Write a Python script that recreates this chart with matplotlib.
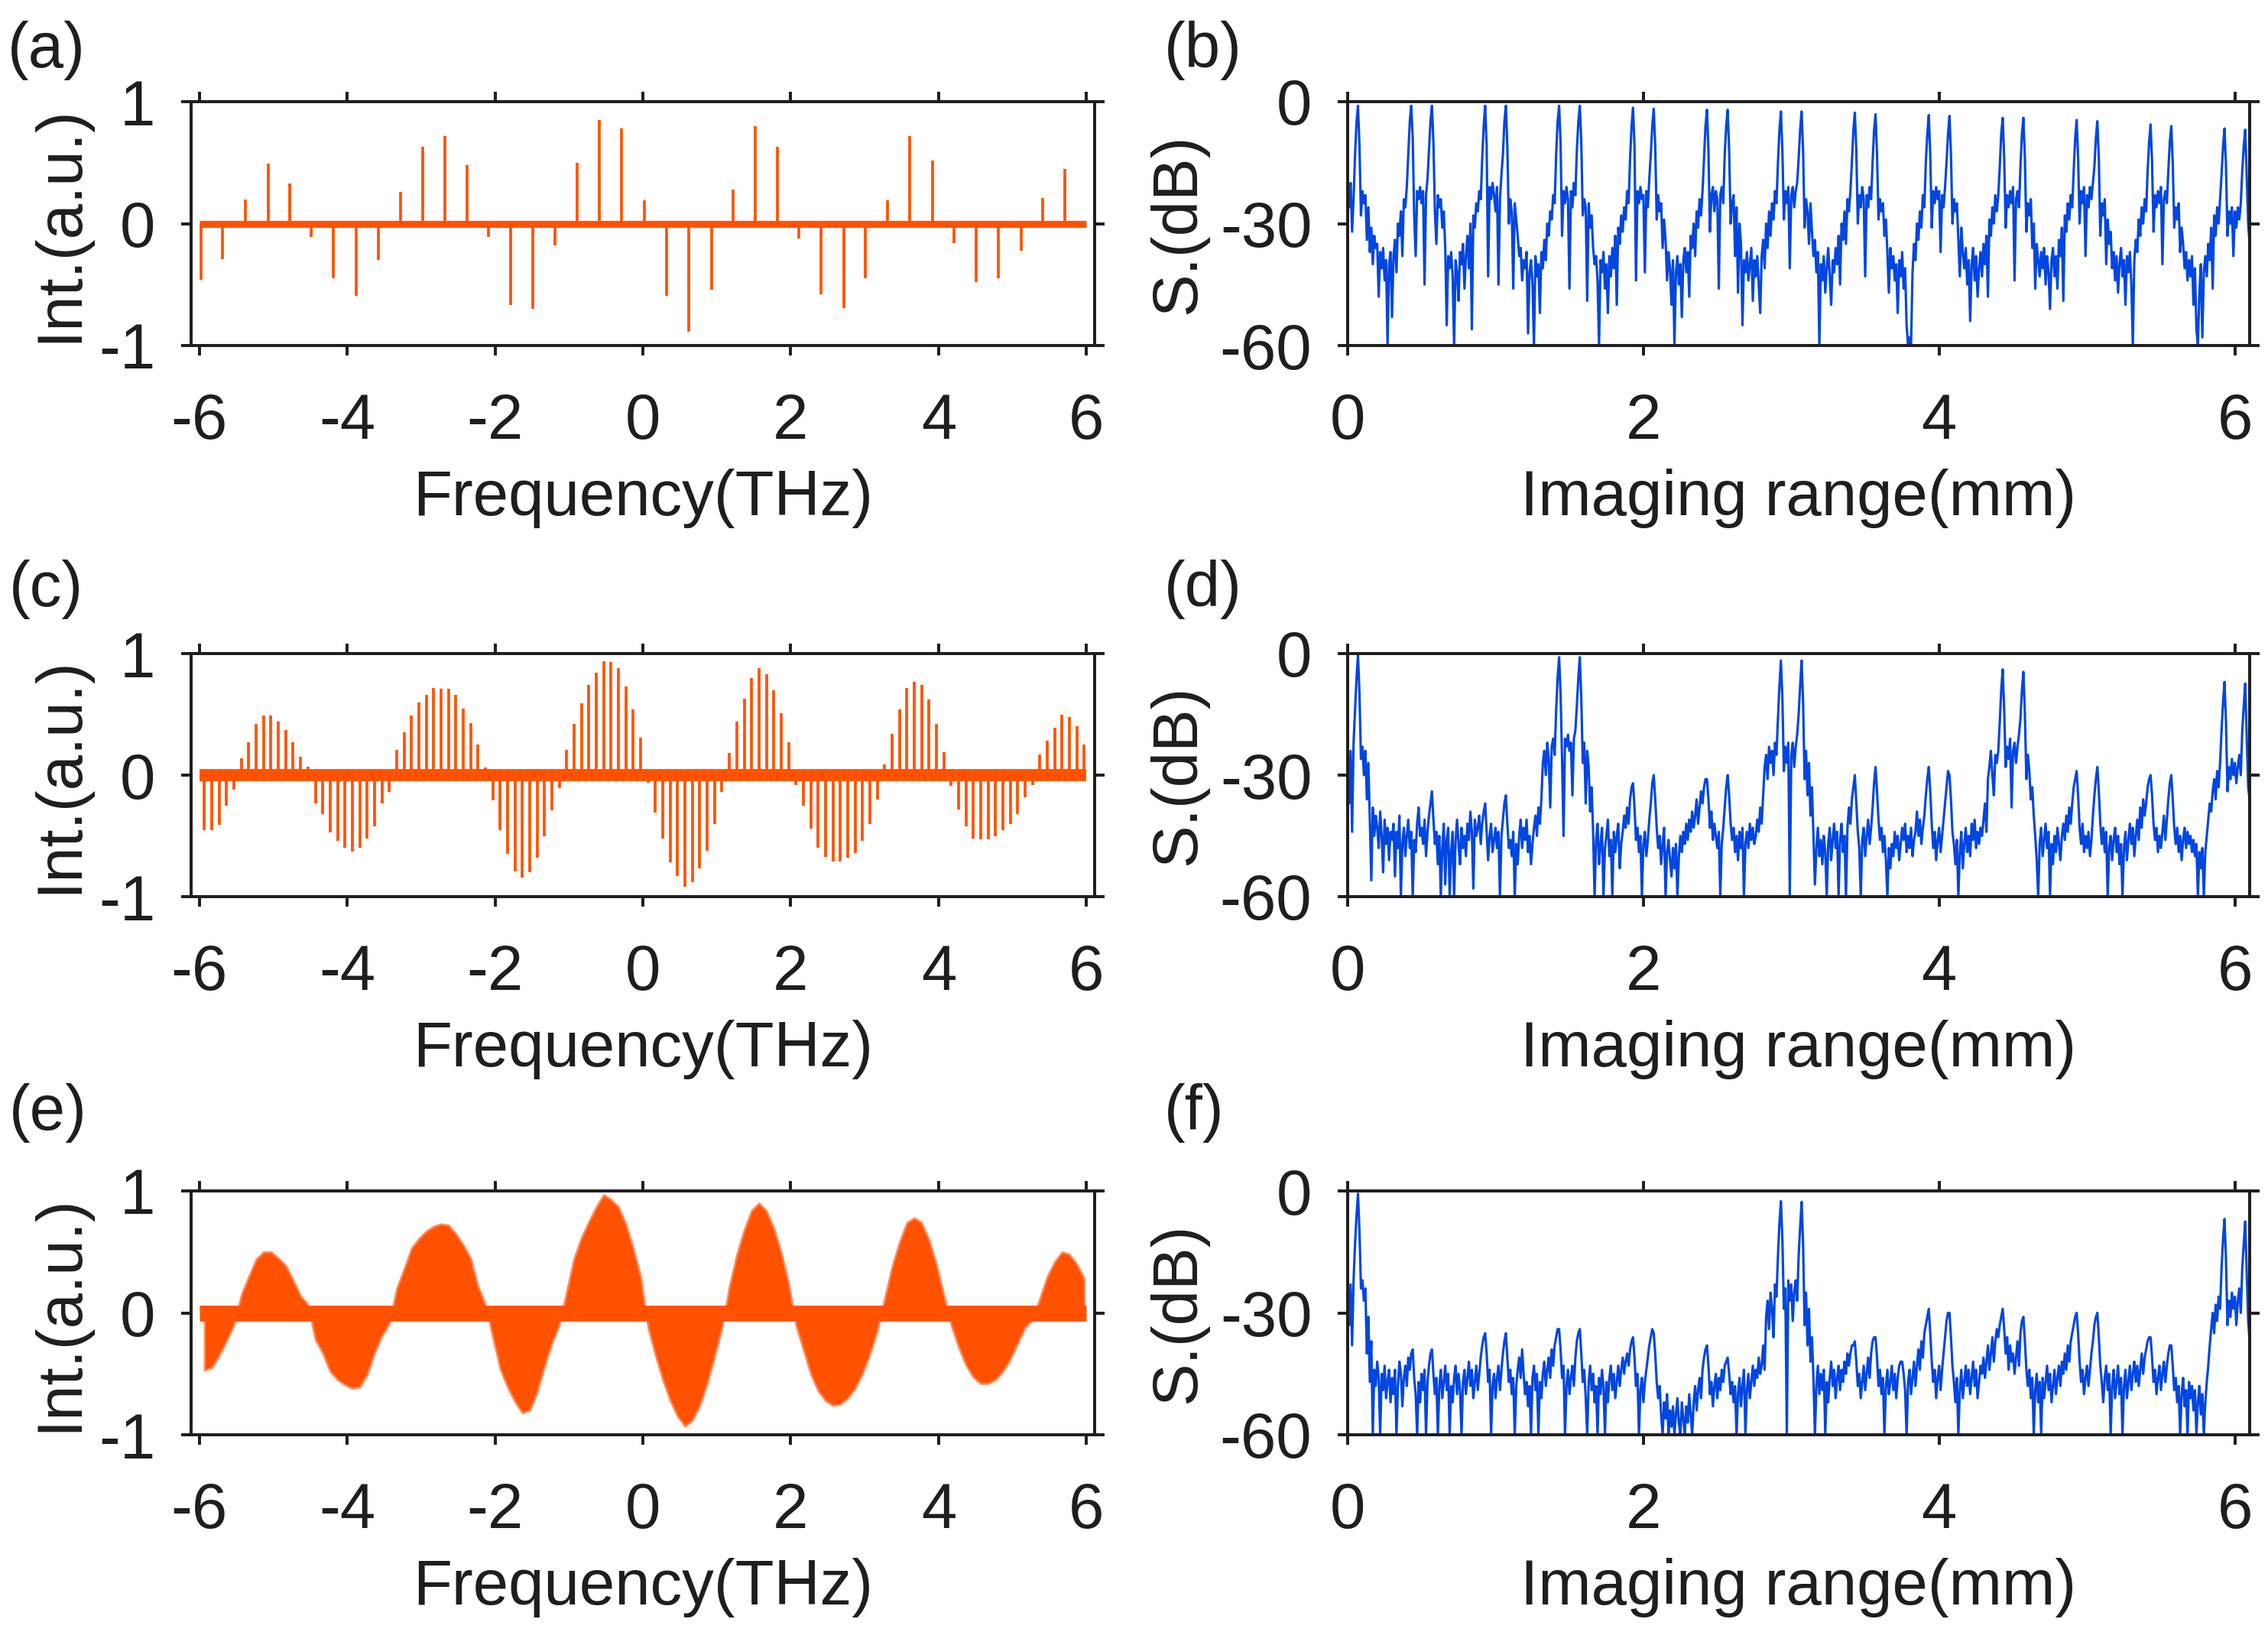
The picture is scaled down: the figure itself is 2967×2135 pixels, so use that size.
import numpy as np
import matplotlib
matplotlib.use("Agg")
import matplotlib.pyplot as plt

plt.rcParams['font.family'] = ['Liberation Sans', 'DejaVu Sans']
plt.rcParams['axes.unicode_minus'] = False

# ---------------- data ----------------
# (a) sparse comb: line positions (THz) and signed intensities
spike_freq_a = [-5.98, -5.69, -5.38, -5.07, -4.78, -4.49, -4.19, -3.88, -3.58, -3.28,
                -2.98, -2.68, -2.38, -2.09, -1.79, -1.49, -1.19, -0.89, -0.59, -0.29,
                0.02, 0.32, 0.62, 0.93, 1.22, 1.52, 1.82, 2.11, 2.41, 2.72,
                3.01, 3.31, 3.61, 3.92, 4.21, 4.51, 4.81, 5.12, 5.41, 5.71]
spike_int_a = [-0.46, -0.29, 0.20, 0.49, 0.33, -0.11, -0.45, -0.59, -0.30, 0.26,
               0.63, 0.72, 0.48, -0.11, -0.67, -0.70, -0.18, 0.50, 0.85, 0.78,
               0.19, -0.59, -0.89, -0.54, 0.28, 0.80, 0.63, -0.12, -0.58, -0.69,
               -0.45, 0.19, 0.72, 0.52, -0.16, -0.48, -0.45, -0.22, 0.21, 0.45]

# (c) denser comb (0.1 THz grid starting at -5.93 THz)
comb_start_c, comb_step_c = -5.93, 0.1
comb_int_c = [-0.45, -0.45, -0.41, -0.25, -0.12,
              0.14, 0.27, 0.42, 0.49, 0.49, 0.44, 0.37, 0.27, 0.15, 0.07,
              -0.23, -0.32, -0.47, -0.54, -0.60, -0.63, -0.60, -0.52, -0.42, -0.23, -0.14,
              0.21, 0.35, 0.49, 0.60, 0.66, 0.72, 0.71, 0.71, 0.66, 0.55, 0.43, 0.25, 0.06,
              -0.21, -0.45, -0.65, -0.79, -0.84, -0.80, -0.68, -0.50, -0.29, -0.11,
              0.21, 0.42, 0.59, 0.74, 0.84, 0.94, 0.93, 0.88, 0.73, 0.54, 0.31,
              -0.06, -0.31, -0.52, -0.72, -0.83, -0.92, -0.88, -0.77, -0.62, -0.40, -0.14,
              0.18, 0.44, 0.63, 0.80, 0.88, 0.83, 0.70, 0.51, 0.27,
              -0.08, -0.25, -0.44, -0.60, -0.67, -0.71, -0.71, -0.68, -0.64, -0.54, -0.40, -0.20,
              0.09, 0.34, 0.54, 0.72, 0.77, 0.74, 0.62, 0.42, 0.19,
              -0.09, -0.28, -0.42, -0.52, -0.53, -0.53, -0.50, -0.45, -0.40, -0.32, -0.18, -0.08,
              0.17, 0.28, 0.39, 0.50, 0.48, 0.40, 0.25]

# (e) envelope of the very dense comb, read on the same 0.1 THz grid
env_int_e = [-0.47, -0.45, -0.35, -0.23, -0.10,
             0.15, 0.30, 0.44, 0.50, 0.50, 0.45, 0.39, 0.27, 0.14, 0.07,
             -0.22, -0.33, -0.48, -0.55, -0.59, -0.62, -0.61, -0.51, -0.33, -0.19, -0.09,
             0.20, 0.36, 0.53, 0.61, 0.67, 0.71, 0.73, 0.72, 0.65, 0.56, 0.45, 0.22, 0.07,
             -0.20, -0.46, -0.61, -0.73, -0.82, -0.80, -0.65, -0.44, -0.25, -0.10,
             0.18, 0.45, 0.62, 0.75, 0.87, 0.97, 0.93, 0.87, 0.73, 0.53, 0.30,
             -0.12, -0.35, -0.55, -0.72, -0.85, -0.93, -0.88, -0.76, -0.58, -0.36, -0.12,
             0.22, 0.48, 0.68, 0.84, 0.90, 0.84, 0.70, 0.50, 0.25,
             -0.10, -0.30, -0.50, -0.64, -0.72, -0.76, -0.75, -0.70, -0.62, -0.50, -0.34, -0.15,
             0.12, 0.38, 0.58, 0.74, 0.78, 0.74, 0.60, 0.40, 0.15,
             -0.10, -0.28, -0.43, -0.53, -0.58, -0.58, -0.55, -0.48, -0.38, -0.25, -0.12, -0.06,
             0.12, 0.30, 0.42, 0.50, 0.48, 0.40, 0.28]

freq_span = [-6.0, 6.0]

# imaging range traces (dB), sampled every 0.01 mm from 0 to 6.10 mm
range_step_mm = 0.01
db_b = [
    -21, -26, -20, -32, -24, -13, -5, -1, -11, -28,
    -22, -25, -23, -34, -26, -37, -31, -40, -33, -36,
    -35, -48, -37, -41, -36, -44, -39, -60, -40, -37,
    -53, -38, -34, -42, -30, -33, -27, -38, -24, -26,
    -21, -13, -5, -1, -9, -28, -38, -22, -24, -21,
    -25, -22, -45, -23, -19, -12, -5, -1, -10, -27,
    -35, -23, -26, -24, -31, -27, -36, -55, -38, -41,
    -37, -43, -60, -39, -42, -49, -37, -40, -35, -46,
    -38, -33, -41, -30, -56, -28, -31, -25, -27, -22,
    -24, -14, -6, -1, -11, -43, -21, -24, -20, -23,
    -27, -21, -45, -24, -18, -13, -5, -1, -11, -30,
    -24, -27, -46, -25, -29, -33, -38, -36, -44, -39,
    -41, -37, -57, -42, -39, -45, -60, -38, -43, -40,
    -52, -37, -41, -34, -39, -30, -33, -27, -29, -23,
    -25, -13, -5, -1, -10, -33, -22, -25, -21, -24,
    -46, -22, -26, -20, -23, -12, -5, -1, -10, -28,
    -24, -26, -49, -25, -31, -28, -36, -40, -38, -44,
    -60, -39, -42, -37, -46, -40, -52, -38, -43, -36,
    -41, -33, -50, -31, -35, -28, -32, -26, -29, -22,
    -25, -14, -6, -1.5, -11, -44, -22, -25, -21, -24,
    -23, -42, -22, -26, -19, -13, -6, -1.7, -11, -29,
    -23, -27, -25, -36, -29, -34, -44, -37, -41, -50,
    -39, -60, -42, -38, -45, -40, -53, -39, -36, -42,
    -37, -48, -33, -36, -30, -38, -27, -31, -24, -28,
    -22, -14, -6, -2, -12, -32, -23, -21, -27, -22,
    -24, -46, -23, -21, -25, -13, -6, -2, -12, -30,
    -25, -23, -38, -26, -47, -30, -35, -55, -39, -42,
    -37, -44, -40, -36, -49, -39, -43, -38, -45, -52,
    -38, -34, -41, -30, -36, -27, -33, -25, -29, -22,
    -25, -15, -7, -2.4, -12, -29, -22, -25, -21, -41,
    -23, -21, -26, -22, -20, -14, -7, -2.4, -12, -31,
    -24, -27, -35, -25, -32, -38, -34, -42, -37, -60,
    -40, -44, -38, -47, -41, -36, -43, -50, -39, -42,
    -36, -40, -33, -45, -30, -34, -27, -35, -24, -27,
    -22, -15, -7, -2.7, -12, -30, -23, -26, -21, -24,
    -43, -23, -26, -21, -24, -15, -7, -3.1, -13, -29,
    -24, -27, -25, -33, -29, -37, -47, -36, -41, -38,
    -44, -40, -52, -39, -43, -37, -46, -41, -55, -60,
    -58, -60, -42, -35, -39, -30, -34, -27, -31, -23,
    -26, -15, -8, -3.3, -13, -31, -22, -25, -21, -24,
    -22, -37, -23, -26, -21, -15, -8, -3.5, -13, -30,
    -24, -27, -25, -34, -43, -31, -37, -41, -36, -45,
    -39, -54, -40, -36, -44, -38, -48, -41, -37, -43,
    -35, -40, -33, -48, -29, -33, -26, -30, -23, -27,
    -23, -16, -8, -4, -14, -31, -23, -26, -22, -25,
    -21, -44, -24, -22, -26, -16, -8, -4, -14, -32,
    -25, -28, -24, -36, -30, -46, -35, -39, -43, -37,
    -41, -36, -45, -38, -42, -51, -39, -36, -43, -38,
    -46, -34, -38, -31, -49, -28, -32, -25, -29, -23,
    -26, -17, -9, -4.5, -14, -30, -22, -25, -21, -38,
    -23, -26, -21, -24, -20, -16, -9, -4.8, -14, -33,
    -25, -28, -24, -40, -29, -35, -32, -41, -37, -44,
    -38, -47, -40, -36, -43, -39, -50, -38, -42, -37,
    -45, -60, -39, -34, -37, -29, -33, -26, -30, -24,
    -27, -17, -10, -5.6, -15, -32, -23, -26, -22, -25,
    -21, -40, -24, -22, -25, -17, -10, -6, -15, -31,
    -26, -29, -25, -37, -31, -35, -41, -37, -44, -39,
    -43, -38, -50, -41, -56, -60, -47, -40, -58, -42,
    -38, -43, -35, -39, -31, -46, -28, -33, -26, -30,
    -24, -18, -11, -6.6, -16, -33, -27, -30, -26, -38,
    -27, -31, -26, -29, -25, -17, -11, -6.9, -18, -30, -35]

db_d = [
    -21, -37, -24, -44, -22, -14, -6, -0.3, -10, -26,
    -23, -30, -24, -36, -27, -41, -56, -38, -45, -40,
    -43, -48, -39, -45, -54, -41, -47, -43, -51, -44,
    -46, -42, -55, -44, -48, -40, -60, -47, -43, -50,
    -45, -41, -48, -44, -60, -46, -49, -42, -38, -45,
    -43, -47, -41, -50, -44, -40, -37, -34, -41, -47,
    -44, -52, -45, -60, -48, -42, -57, -46, -43, -60,
    -49, -44, -60, -46, -41, -47, -52, -43, -48, -45,
    -50, -42, -46, -39, -44, -58, -41, -45, -43, -40,
    -47, -42, -39, -37, -44, -51, -45, -42, -49, -46,
    -43, -48, -44, -60, -45, -41, -37, -35, -42, -48,
    -46, -50, -44, -60, -47, -52, -45, -41, -48, -43,
    -46, -41, -49, -45, -52, -47, -43, -40, -45, -38,
    -42, -36, -27, -24, -30, -22, -26, -38, -23, -21,
    -25, -14, -6, -0.9, -10, -26, -45, -21, -23, -20,
    -24, -22, -35, -21, -19, -13, -6, -0.9, -11, -27,
    -22, -37, -24, -28, -39, -33, -44, -60, -46, -42,
    -52, -47, -43, -60, -48, -45, -41, -50, -46, -60,
    -44, -49, -45, -42, -53, -47, -44, -40, -43, -38,
    -42, -36, -33, -32, -38, -46, -43, -49, -45, -60,
    -47, -44, -50, -46, -41, -37, -32, -30, -36, -43,
    -48, -45, -52, -47, -43, -60, -49, -46, -51, -55,
    -48, -53, -47, -60, -50, -45, -49, -44, -47, -42,
    -46, -41, -44, -39, -43, -40, -36, -42, -38, -34,
    -37, -33, -31, -31, -36, -43, -39, -46, -42, -45,
    -48, -44, -60, -47, -43, -38, -33, -30, -35, -42,
    -46, -43, -49, -45, -51, -44, -48, -43, -60, -47,
    -44, -48, -42, -46, -43, -47, -45, -41, -44, -38,
    -42, -35, -28, -25, -31, -23, -27, -24, -30, -22,
    -25, -16, -8, -1.7, -11, -29, -23, -27, -22, -60,
    -25, -22, -28, -23, -20, -15, -8, -1.7, -12, -31,
    -24, -35, -27, -40, -33, -45, -57, -48, -43, -50,
    -46, -52, -45, -49, -60, -47, -43, -51, -46, -42,
    -48, -44, -60, -46, -42, -49, -45, -60, -43, -38,
    -42, -36, -33, -30, -37, -44, -48, -60, -46, -43,
    -50, -45, -41, -47, -43, -38, -32, -28, -34, -41,
    -46, -43, -49, -45, -51, -60, -48, -53, -47, -50,
    -44, -48, -45, -51, -47, -43, -46, -42, -49, -45,
    -48, -43, -50, -46, -44, -39, -45, -41, -47, -43,
    -40, -35, -31, -28, -34, -42, -48, -44, -51, -46,
    -43, -49, -45, -41, -37, -33, -29, -30, -36, -44,
    -47, -52, -46, -60, -49, -44, -53, -47, -43, -49,
    -45, -50, -42, -46, -41, -48, -44, -47, -43, -45,
    -41, -37, -44, -31, -28, -24, -30, -35, -25, -27,
    -24, -17, -9, -3.9, -14, -28, -23, -26, -21, -38,
    -24, -22, -27, -23, -20, -16, -9, -4.5, -15, -31,
    -25, -29, -36, -33, -40, -45, -51, -60, -47, -43,
    -50, -46, -42, -48, -44, -60, -47, -52, -45, -49,
    -43, -47, -51, -45, -42, -46, -40, -44, -38, -42,
    -37, -33, -31, -29, -35, -43, -47, -42, -49, -45,
    -48, -44, -50, -46, -40, -35, -31, -28, -34, -42,
    -47, -43, -49, -44, -60, -48, -45, -51, -46, -43,
    -49, -45, -52, -47, -60, -48, -44, -51, -46, -42,
    -47, -43, -50, -45, -41, -46, -38, -43, -36, -40,
    -37, -33, -31, -30, -35, -42, -46, -43, -49, -45,
    -48, -44, -40, -46, -41, -36, -32, -30, -36, -43,
    -47, -43, -49, -45, -51, -46, -43, -48, -44, -47,
    -45, -49, -46, -50, -47, -60, -49, -53, -48, -60,
    -49, -45, -41, -37, -39, -34, -31, -36, -29, -33,
    -27, -19, -12, -7, -17, -34, -28, -31, -26, -30,
    -27, -32, -28, -25, -30, -19, -13, -7.4, -20, -33, -36]

db_f = [
    -21, -33, -23, -38, -22, -13, -6, -0.7, -10, -24,
    -22, -27, -24, -40, -31, -47, -37, -60, -44, -48,
    -42, -46, -60, -45, -49, -43, -51, -47, -44, -52,
    -46, -50, -44, -60, -48, -42, -45, -53, -46, -43,
    -48, -41, -44, -40, -39, -46, -50, -60, -47, -52,
    -45, -49, -44, -60, -47, -43, -40, -39, -45, -50,
    -46, -60, -48, -44, -51, -47, -43, -49, -45, -60,
    -48, -52, -46, -43, -50, -45, -49, -60, -47, -44,
    -50, -46, -42, -48, -44, -51, -47, -43, -49, -45,
    -41, -38, -36, -35, -40, -47, -44, -60, -48, -45,
    -51, -46, -43, -49, -44, -40, -37, -35, -41, -47,
    -44, -50, -46, -60, -48, -44, -41, -46, -39, -45,
    -50, -47, -53, -48, -60, -46, -43, -49, -45, -60,
    -47, -51, -45, -42, -48, -44, -41, -46, -39, -43,
    -38, -36, -34, -34, -39, -46, -43, -60, -48, -44,
    -50, -46, -43, -48, -41, -37, -35, -34, -40, -47,
    -44, -51, -60, -47, -43, -49, -45, -52, -48, -60,
    -46, -50, -44, -48, -60, -47, -52, -46, -43, -49,
    -45, -51, -47, -43, -48, -44, -41, -45, -42, -40,
    -43, -39, -37, -36, -41, -48, -45, -60, -49, -46,
    -52, -47, -44, -41, -38, -36, -34, -35, -40, -47,
    -51, -48, -55, -60, -52, -56, -50, -60, -54, -58,
    -53, -60, -55, -51, -57, -60, -52, -56, -60, -53,
    -57, -50, -55, -60, -52, -48, -54, -49, -46, -51,
    -44, -41, -39, -38, -43, -50, -47, -53, -48, -45,
    -51, -46, -49, -44, -47, -43, -42, -41, -45, -50,
    -47, -52, -48, -60, -50, -46, -53, -48, -44, -60,
    -49, -45, -51, -47, -43, -48, -44, -46, -41, -45,
    -43, -38, -44, -31, -27, -34, -25, -29, -36, -23,
    -26, -16, -8, -2.5, -12, -29, -24, -60, -22, -27,
    -23, -32, -25, -22, -27, -16, -9, -2.7, -13, -33,
    -25, -38, -29, -42, -36, -46, -60, -48, -43, -50,
    -45, -49, -44, -60, -47, -52, -46, -42, -48, -44,
    -51, -46, -43, -49, -44, -47, -42, -45, -40, -43,
    -40, -38, -38, -37, -42, -48, -45, -51, -47, -43,
    -49, -45, -41, -46, -40, -37, -36, -36, -41, -48,
    -44, -50, -46, -60, -48, -44, -50, -47, -43, -49,
    -45, -51, -46, -43, -42, -42, -45, -49, -60, -47,
    -44, -50, -46, -42, -48, -43, -39, -44, -37, -41,
    -35, -33, -31, -29, -35, -42, -47, -44, -51, -46,
    -43, -49, -44, -40, -36, -32, -30, -30, -36, -43,
    -47, -52, -46, -60, -49, -44, -51, -47, -43, -48,
    -44, -50, -46, -42, -48, -44, -51, -47, -43, -45,
    -41, -46, -42, -38, -44, -40, -36, -42, -37, -34,
    -36, -33, -31, -29, -34, -40, -36, -44, -38, -42,
    -40, -45, -41, -37, -43, -35, -32, -31, -37, -44,
    -48, -44, -51, -46, -60, -49, -45, -52, -47, -60,
    -46, -51, -47, -43, -49, -45, -52, -48, -44, -50,
    -46, -43, -48, -42, -45, -40, -44, -38, -42, -37,
    -35, -33, -31, -30, -35, -42, -47, -44, -50, -46,
    -43, -48, -44, -40, -37, -33, -31, -30, -36, -43,
    -47, -52, -46, -43, -49, -45, -60, -48, -44, -51,
    -47, -43, -50, -46, -60, -48, -44, -51, -47, -43,
    -49, -45, -42, -47, -43, -48, -44, -40, -45, -41,
    -39, -37, -36, -36, -41, -47, -44, -50, -46, -43,
    -49, -45, -42, -47, -43, -40, -38, -38, -43, -49,
    -46, -52, -48, -60, -50, -46, -53, -49, -60, -47,
    -51, -48, -54, -49, -60, -52, -48, -55, -50, -60,
    -52, -47, -43, -38, -34, -30, -35, -28, -32, -26,
    -29, -19, -12, -6.9, -17, -33, -27, -31, -25, -29,
    -26, -33, -27, -24, -30, -19, -13, -7.5, -20, -32, -37]

freq_ticks = [-6, -4, -2, 0, 2, 4, 6]
int_ticks = [-1, 0, 1]
range_ticks = [0, 2, 4, 6]
db_ticks = [-60, -30, 0]
panel_tags = ['(a)', '(b)', '(c)', '(d)', '(e)', '(f)']

# ---------------- style ----------------
ORANGE = '#FF5200'
BLUE = '#0046E0'
INK = '#1e1e1e'
W, H, DPI = 2967, 2135, 300
FS = 20

fig = plt.figure(figsize=(W / DPI, H / DPI), dpi=DPI)


def px_axes(l, t, r, b):
    return fig.add_axes([l / W, 1 - b / H, (r - l) / W, (b - t) / H])


rows = [(133, 452), (855, 1173), (1558, 1877)]
left_cols = (250, 1432)
right_cols = (1763, 2943)


def style(ax, xlim, ylim, xticks, yticks, xlabel, ylabel, ylab_x):
    ax.set_xlim(xlim)
    ax.set_ylim(ylim)
    ax.set_xticks(xticks)
    ax.set_yticks(yticks)
    ax.tick_params(axis='both', direction='out', top=True, right=True,
                   length=3.2, width=0.95, labelsize=FS, colors=INK)
    ax.tick_params(axis='x', pad=11.5)
    ax.tick_params(axis='y', pad=8)
    for s in ax.spines.values():
        s.set_linewidth(0.95)
        s.set_color(INK)
    ax.set_xlabel(xlabel, fontsize=FS, color=INK)
    ax.set_ylabel(ylabel, fontsize=FS, color=INK)
    ax.xaxis.set_label_coords(0.5, -0.505)
    ax.yaxis.set_label_coords(ylab_x, 0.5)


comb_freq_c = comb_start_c + comb_step_c * np.arange(len(comb_int_c))
env_freq_e = comb_start_c + comb_step_c * np.arange(len(env_int_e))
range_mm = range_step_mm * np.arange(len(db_b))

freq_lim = (-6.11, 6.11)
range_lim = (0, 6.1)

# (a)
ax = px_axes(left_cols[0], rows[0][0], left_cols[1], rows[0][1])
ax.plot(freq_span, [0, 0], color=ORANGE, lw=2.2, solid_capstyle='butt')
ax.vlines(spike_freq_a, 0, spike_int_a, color=ORANGE, lw=0.9)
style(ax, freq_lim, (-1, 1), freq_ticks, int_ticks, 'Frequency(THz)', 'Int.(a.u.)', -0.112)

# (b)
ax = px_axes(right_cols[0], rows[0][0], right_cols[1], rows[0][1])
ax.plot(range_mm, db_b, color=BLUE, lw=0.75)
style(ax, range_lim, (-60, 0), range_ticks, db_ticks, 'Imaging range(mm)', 'S.(dB)', -0.155)

# (c)
ax = px_axes(left_cols[0], rows[1][0], left_cols[1], rows[1][1])
ax.plot(freq_span, [0, 0], color=ORANGE, lw=3.8, solid_capstyle='butt')
ax.vlines(comb_freq_c, 0, comb_int_c, color=ORANGE, lw=0.9)
style(ax, freq_lim, (-1, 1), freq_ticks, int_ticks, 'Frequency(THz)', 'Int.(a.u.)', -0.112)

# (d)
ax = px_axes(right_cols[0], rows[1][0], right_cols[1], rows[1][1])
ax.plot(range_mm, db_d, color=BLUE, lw=0.75)
style(ax, range_lim, (-60, 0), range_ticks, db_ticks, 'Imaging range(mm)', 'S.(dB)', -0.155)

# (e)
ax = px_axes(left_cols[0], rows[2][0], left_cols[1], rows[2][1])
ax.fill_between(env_freq_e, env_int_e, 0, color=ORANGE, lw=0.6, edgecolor='#FF8A5C')
ax.plot(freq_span, [0, 0], color=ORANGE, lw=5.0, solid_capstyle='butt')
style(ax, freq_lim, (-1, 1), freq_ticks, int_ticks, 'Frequency(THz)', 'Int.(a.u.)', -0.112)

# (f)
ax = px_axes(right_cols[0], rows[2][0], right_cols[1], rows[2][1])
ax.plot(range_mm, db_f, color=BLUE, lw=0.75)
style(ax, range_lim, (-60, 0), range_ticks, db_ticks, 'Imaging range(mm)', 'S.(dB)', -0.155)

# panel tags
tag_pos = [(10, 66), (1523, 66), (12, 771), (1523, 771), (12, 1456), (1523, 1456)]
for tag, (tx, ty) in zip(panel_tags, tag_pos):
    fig.text(tx / W, 1 - ty / H, tag, fontsize=FS, color=INK, ha='left', va='center')

fig.savefig('out.png', dpi=DPI)
